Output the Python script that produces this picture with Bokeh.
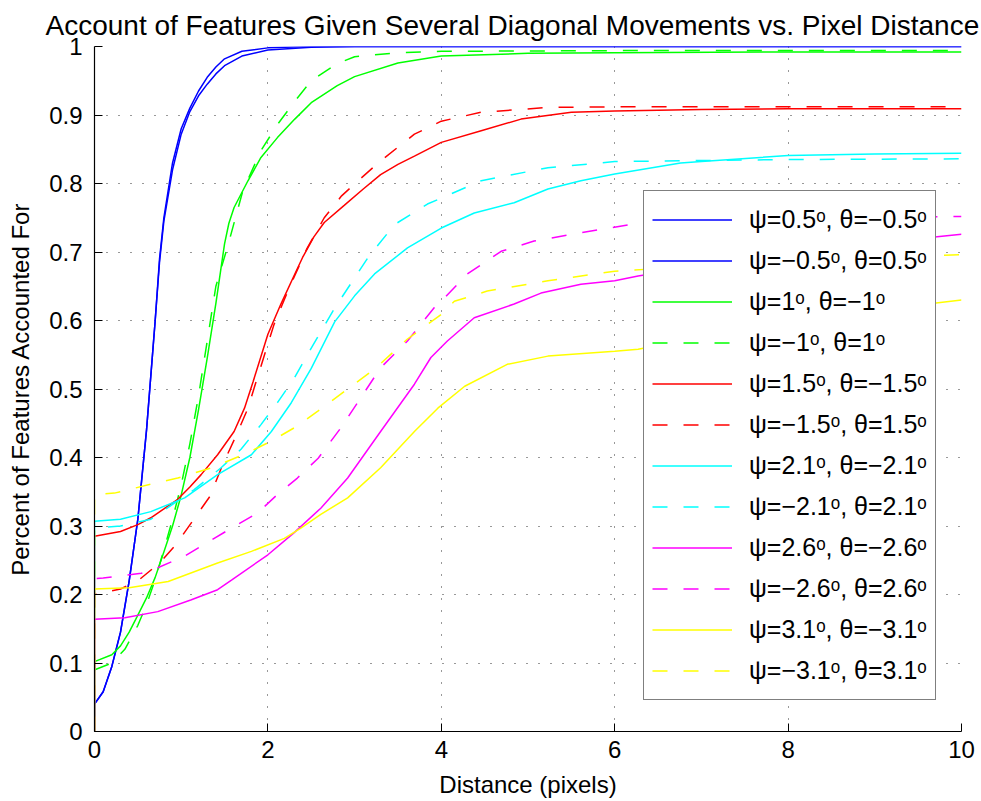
from bokeh.plotting import figure
from bokeh.models import FixedTicker, Legend, LegendItem, Range1d
from bokeh.embed import file_html
from bokeh.resources import INLINE

TITLE = "Account of Features Given Several Diagonal Movements vs. Pixel Distance"
X_LABEL = "Distance (pixels)"
Y_LABEL = "Percent of Features Accounted For"

x_ticks = [0, 2, 4, 6, 8, 10]
x_tick_labels = ["0", "2", "4", "6", "8", "10"]
y_ticks = [0, 0.1, 0.2, 0.3, 0.4, 0.5, 0.6, 0.7, 0.8, 0.9, 1]
y_tick_labels = ["0", "0.1", "0.2", "0.3", "0.4", "0.5", "0.6", "0.7", "0.8", "0.9", "1"]

series_labels = [
    "ψ=0.5ᵒ, θ=−0.5ᵒ", "ψ=−0.5ᵒ, θ=0.5ᵒ",
    "ψ=1ᵒ, θ=−1ᵒ", "ψ=−1ᵒ, θ=1ᵒ",
    "ψ=1.5ᵒ, θ=−1.5ᵒ", "ψ=−1.5ᵒ, θ=1.5ᵒ",
    "ψ=2.1ᵒ, θ=−2.1ᵒ", "ψ=−2.1ᵒ, θ=2.1ᵒ",
    "ψ=2.6ᵒ, θ=−2.6ᵒ", "ψ=−2.6ᵒ, θ=2.6ᵒ",
    "ψ=3.1ᵒ, θ=−3.1ᵒ", "ψ=−3.1ᵒ, θ=3.1ᵒ",
]

# psi=0.5, theta=-0.5
blue1_x = [0, 0, 0.1, 0.2, 0.3, 0.4, 0.5, 0.6, 0.7, 0.75, 0.8, 0.9, 1.0, 1.1, 1.2, 1.3, 1.4, 1.5, 1.7, 2.0, 2.5, 10]
blue1_y = [0, 0.04, 0.058, 0.095, 0.145, 0.22, 0.31, 0.44, 0.6, 0.69, 0.75, 0.83, 0.88, 0.91, 0.935, 0.955, 0.97, 0.982, 0.993, 0.998, 1.0, 1.0]
# psi=-0.5, theta=0.5
blue2_x = [0, 0, 0.1, 0.2, 0.3, 0.4, 0.5, 0.6, 0.7, 0.75, 0.8, 0.9, 1.0, 1.1, 1.2, 1.3, 1.4, 1.5, 1.7, 2.0, 2.5, 3.0, 10]
blue2_y = [0, 0.04, 0.058, 0.095, 0.145, 0.22, 0.31, 0.44, 0.6, 0.685, 0.745, 0.82, 0.872, 0.905, 0.928, 0.945, 0.96, 0.972, 0.986, 0.995, 0.999, 1.0, 1.0]
# psi=1, theta=-1
green1_x = [0, 0, 0.2, 0.3, 0.4, 0.5, 0.6, 0.7, 0.8, 0.9, 1.0, 1.1, 1.2, 1.3, 1.4, 1.5, 1.55, 1.61, 1.77, 1.92, 2.11, 2.31, 2.5, 2.8, 3.0, 3.5, 4.0, 5.0, 6, 8, 10]
green1_y = [0, 0.102, 0.112, 0.125, 0.145, 0.17, 0.195, 0.225, 0.262, 0.3, 0.345, 0.4, 0.47, 0.545, 0.625, 0.712, 0.742, 0.765, 0.804, 0.838, 0.867, 0.894, 0.918, 0.943, 0.956, 0.976, 0.986, 0.99, 0.991, 0.992, 0.992]
# psi=-1, theta=1
green2_x = [0, 0, 0.2, 0.35, 0.5, 0.6, 0.7, 0.8, 0.9, 1.0, 1.1, 1.2, 1.3, 1.4, 1.54, 1.71, 1.92, 2.11, 2.31, 2.5, 2.8, 3.0, 3.5, 4, 6, 10]
green2_y = [0, 0.09, 0.1, 0.12, 0.155, 0.185, 0.222, 0.265, 0.31, 0.36, 0.42, 0.49, 0.57, 0.65, 0.71, 0.789, 0.848, 0.886, 0.92, 0.95, 0.975, 0.985, 0.991, 0.993, 0.994, 0.994]
# psi=1.5, theta=-1.5
red1_x = [0, 0, 0.3, 0.5, 0.65, 0.8, 0.96, 1.1, 1.23, 1.42, 1.61, 1.73, 1.83, 2.0, 2.15, 2.3, 2.4, 2.53, 2.65, 2.88, 3.1, 3.3, 3.5, 3.69, 4.0, 4.46, 4.92, 5.5, 6.0, 7, 8, 10]
red1_y = [0, 0.285, 0.292, 0.302, 0.312, 0.325, 0.339, 0.357, 0.375, 0.404, 0.438, 0.472, 0.511, 0.58, 0.624, 0.665, 0.692, 0.722, 0.743, 0.768, 0.792, 0.813, 0.828, 0.84, 0.86, 0.877, 0.894, 0.904, 0.906, 0.908, 0.909, 0.909]
# psi=-1.5, theta=1.5
red2_x = [0, 0, 0.3, 0.5, 0.75, 0.94, 1.13, 1.33, 1.48, 1.63, 1.77, 1.86, 2.07, 2.23, 2.45, 2.65, 2.85, 3.04, 3.3, 3.69, 4.0, 4.46, 5.23, 6, 8, 10]
red2_y = [0, 0.2, 0.208, 0.22, 0.246, 0.273, 0.307, 0.343, 0.39, 0.431, 0.472, 0.509, 0.594, 0.643, 0.705, 0.75, 0.782, 0.804, 0.833, 0.872, 0.891, 0.904, 0.911, 0.912, 0.912, 0.912]
# psi=2.1, theta=-2.1
cyan1_x = [0, 0, 0.3, 0.65, 1.04, 1.42, 1.81, 2.04, 2.27, 2.5, 2.77, 3.0, 3.23, 3.61, 4.0, 4.38, 4.84, 5.23, 5.61, 6.0, 6.76, 7.0, 8.0, 9, 10]
cyan1_y = [0, 0.307, 0.31, 0.321, 0.341, 0.375, 0.404, 0.438, 0.48, 0.53, 0.598, 0.636, 0.668, 0.706, 0.735, 0.757, 0.772, 0.792, 0.804, 0.814, 0.83, 0.832, 0.841, 0.843, 0.844]
# psi=-2.1, theta=2.1
cyan2_x = [0, 0, 0.3, 0.65, 1.15, 1.46, 1.69, 1.92, 2.11, 2.3, 2.46, 2.77, 3.15, 3.46, 3.84, 4.46, 5.23, 6.0, 8, 10]
cyan2_y = [0, 0.297, 0.3, 0.31, 0.353, 0.385, 0.412, 0.448, 0.48, 0.515, 0.551, 0.618, 0.691, 0.74, 0.77, 0.804, 0.823, 0.832, 0.835, 0.836]
# psi=2.6, theta=-2.6
mag1_x = [0, 0, 0.35, 0.73, 1.11, 1.42, 1.58, 2.0, 2.3, 2.61, 2.92, 3.3, 3.69, 3.88, 4.07, 4.38, 4.84, 5.15, 5.61, 6.0, 6.27, 8, 10]
mag1_y = [0, 0.164, 0.166, 0.175, 0.192, 0.207, 0.221, 0.258, 0.29, 0.326, 0.37, 0.438, 0.507, 0.546, 0.57, 0.604, 0.624, 0.64, 0.653, 0.658, 0.665, 0.7, 0.726]
# psi=-2.6, theta=2.6
mag2_x = [0, 0, 0.1, 0.54, 0.73, 1.04, 1.33, 1.58, 1.88, 2.11, 2.34, 2.58, 2.84, 3.07, 3.3, 3.61, 3.92, 4.0, 4.3, 4.69, 5.07, 5.61, 6.22, 8, 10]
mag2_y = [0, 0.223, 0.224, 0.231, 0.239, 0.256, 0.278, 0.297, 0.319, 0.346, 0.37, 0.399, 0.443, 0.487, 0.531, 0.57, 0.619, 0.628, 0.668, 0.701, 0.716, 0.728, 0.741, 0.748, 0.752]
# psi=3.1, theta=-3.1
yel1_x = [0, 0, 0.4, 0.85, 1.42, 1.81, 2.19, 2.38, 2.61, 2.92, 3.3, 3.69, 3.96, 4.27, 4.76, 5.23, 6.0, 6.27, 8, 10]
yel1_y = [0, 0.208, 0.21, 0.219, 0.246, 0.263, 0.282, 0.297, 0.317, 0.341, 0.385, 0.438, 0.472, 0.504, 0.536, 0.548, 0.555, 0.558, 0.6, 0.63]
# psi=-3.1, theta=3.1
yel2_x = [0, 0, 0.23, 0.65, 0.96, 1.35, 1.77, 2.04, 2.34, 2.58, 2.92, 3.23, 3.61, 4.0, 4.15, 4.53, 5.23, 6.0, 8, 10]
yel2_y = [0, 0.346, 0.348, 0.361, 0.37, 0.385, 0.407, 0.424, 0.446, 0.468, 0.5, 0.529, 0.573, 0.609, 0.628, 0.643, 0.658, 0.672, 0.687, 0.696]

series_x = [blue1_x, blue2_x, green1_x, green2_x, red1_x, red2_x, cyan1_x, cyan2_x, mag1_x, mag2_x, yel1_x, yel2_x]
series_y = [blue1_y, blue2_y, green1_y, green2_y, red1_y, red2_y, cyan1_y, cyan2_y, mag1_y, mag2_y, yel1_y, yel2_y]

colors = ["#0000ff", "#0000ff", "#00ff00", "#00ff00", "#ff0000", "#ff0000",
          "#00ffff", "#00ffff", "#ff00ff", "#ff00ff", "#ffff00", "#ffff00"]
dashes = ["solid", "solid", "solid", "15 16", "solid", "15 16",
          "solid", "15 16", "solid", "15 16", "solid", "15 16"]

FONT = "Liberation Sans"

p = figure(width=981, height=801, x_range=Range1d(0, 10), y_range=Range1d(0, 1),
           output_backend="svg", toolbar_location=None,
           min_border_left=94, min_border_right=20, min_border_top=46, min_border_bottom=70)
p.background_fill_color = "white"
p.border_fill_color = "white"
p.outline_line_color = None

p.title.text = TITLE
p.title.text_font = FONT
p.title.text_font_size = "28px"
p.title.text_font_style = "normal"
p.title.text_color = "black"
p.title.align = "left"
p.title.offset = -49
p.title.standoff = 11

items = []
for xs, ys, c, d, lab in zip(series_x, series_y, colors, dashes, series_labels):
    r = p.line(xs, ys, line_color=c, line_width=1.5, line_dash=d)
    items.append(LegendItem(label=lab, renderers=[r]))

legend = Legend(items=items, location=(549, 31), glyph_width=80, glyph_height=41,
                label_height=41, label_standoff=17, spacing=0, padding=8, margin=0,
                border_line_color="black", border_line_width=1.5,
                background_fill_color="white", background_fill_alpha=1,
                label_text_font=FONT, label_text_font_size="25px", label_text_color="black")
p.add_layout(legend, "center")

for ax in (p.xaxis, p.yaxis):
    ax.axis_line_color = "black"
    ax.axis_line_width = 1.2
    ax.major_tick_line_color = "black"
    ax.major_tick_in = 8
    ax.major_tick_out = 0
    ax.minor_tick_line_color = None
    ax.major_label_text_font = FONT
    ax.major_label_text_font_size = "24px"
    ax.major_label_text_color = "black"
    ax.axis_label_text_font = FONT
    ax.axis_label_text_font_size = "24px"
    ax.axis_label_text_font_style = "normal"
    ax.axis_label_text_color = "black"

p.xaxis.ticker = FixedTicker(ticks=x_ticks)
p.xaxis.major_label_overrides = {t: l for t, l in zip(x_ticks, x_tick_labels)}
p.yaxis.ticker = FixedTicker(ticks=y_ticks)
p.yaxis.major_label_overrides = {t: l for t, l in zip(y_ticks, y_tick_labels)}
p.xaxis.axis_label = X_LABEL
p.yaxis.axis_label = Y_LABEL
p.xaxis.major_label_standoff = 9
p.xaxis.axis_label_standoff = 10
p.yaxis.major_label_standoff = 12
p.yaxis.axis_label_standoff = 12

for g in (p.xgrid, p.ygrid):
    g.grid_line_color = "black"
    g.grid_line_alpha = 0.8
    g.grid_line_width = 1
    g.grid_line_dash = "1 11"

open("out.html", "w").write(file_html(p, INLINE))
